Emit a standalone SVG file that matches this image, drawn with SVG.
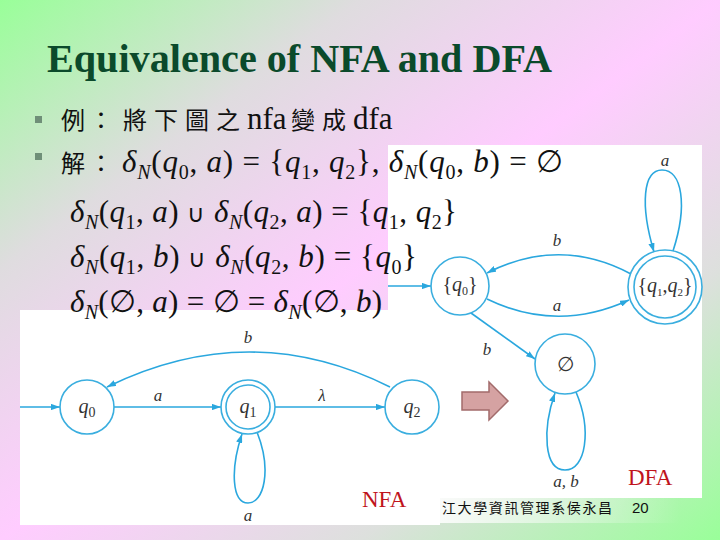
<svg xmlns="http://www.w3.org/2000/svg" width="720" height="540" viewBox="0 0 720 540">
<defs>
<linearGradient id="bg" x1="0" y1="0" x2="1" y2="1">
<stop offset="0" stop-color="#99ff99"/>
<stop offset="0.25" stop-color="#dfdcdf"/>
<stop offset="0.5" stop-color="#ffccff"/>
<stop offset="0.75" stop-color="#dde0dd"/>
<stop offset="1" stop-color="#99ff99"/>
</linearGradient>
<linearGradient id="fg" x1="0" y1="0" x2="1" y2="0">
<stop offset="0" stop-color="#ffffff" stop-opacity="0.85"/>
<stop offset="1" stop-color="#ffffff" stop-opacity="0"/>
</linearGradient>
<marker id="ah" viewBox="0 0 10 7" refX="10" refY="3.5" markerWidth="9" markerHeight="6.3" markerUnits="userSpaceOnUse" orient="auto">
<path d="M0,0 L10,3.5 L0,7 z" fill="#2aa7de"/>
</marker>
<style>
.edge{fill:none;stroke:#2aa7de;stroke-width:1.6}
.node{fill:none;stroke:#3aaedf;stroke-width:1.6}
.lbl{font-family:"Liberation Serif",serif;font-style:italic;font-size:17px;fill:#333;text-anchor:middle}
.nl{font-family:"Liberation Serif",serif;font-size:20px;fill:#333;text-anchor:middle}
.m{font-family:"Liberation Serif",serif;font-size:31px;fill:#111}
.i{font-style:italic}
.sb{font-size:20px}
.cjk{font-family:"Noto Sans CJK TC","Noto Sans CJK SC",sans-serif;font-size:24px;fill:#111}
.red{font-family:"Liberation Serif",serif;font-size:23px;fill:#c0141c}
</style>
</defs>
<rect x="0" y="0" width="720" height="540" fill="url(#bg)"/>
<rect x="388" y="145" width="314" height="353" fill="#ffffff"/>
<rect x="20" y="310" width="420" height="215" fill="#ffffff"/>
<rect x="440" y="498" width="240" height="25" fill="url(#fg)"/>

<text x="47" y="72" font-family="Liberation Serif" font-weight="bold" font-size="40" fill="#0b4a2b" textLength="505" lengthAdjust="spacingAndGlyphs">Equivalence of NFA and DFA</text>

<g id="connectors">
<path class="edge" marker-end="url(#ah)" d="M20,407 L60,407"/>
<path class="edge" marker-end="url(#ah)" d="M114,407 L221,407"/>
<path class="edge" marker-end="url(#ah)" d="M275,407 L385,407"/>
<path class="edge" marker-end="url(#ah)" d="M390,387 Q250,317 107,387"/>
<path class="edge" marker-end="url(#ah)" d="M257,432 C272,470 264,503 248,503 C232,503 230,470 242,434"/>
<path class="edge" marker-end="url(#ah)" d="M388,286 L431,286"/>
<path class="edge" marker-end="url(#ah)" d="M631,274 Q560,236 487,273"/>
<path class="edge" marker-end="url(#ah)" d="M487,299 Q557,333 629,300"/>
<path class="edge" marker-end="url(#ah)" d="M471,313 L535,359"/>
<path class="edge" marker-end="url(#ah)" d="M673,251 C688,205 682,170 662,170 C643,170 640,205 654,252"/>
<path class="edge" marker-end="url(#ah)" d="M576,392 C592,430 586,470 565,470 C544,470 542,430 555,393"/>
<text class="lbl" x="248" y="343">b</text>
<text class="lbl" x="158" y="401">a</text>
<text class="lbl" x="322" y="401" font-style="normal">λ</text>
<text class="lbl" x="248" y="521">a</text>
<text class="lbl" x="665" y="166">a</text>
<text class="lbl" x="557" y="246">b</text>
<text class="lbl" x="557" y="311">a</text>
<text class="lbl" x="487" y="355">b</text>
<text class="lbl" x="566" y="487">a, b</text>
</g>

<g id="nfa-q0">
<circle class="node" cx="87" cy="407" r="27"/>
<text class="nl" x="87" y="413"><tspan class="i">q</tspan><tspan font-size="14" dy="4">0</tspan></text>
</g>
<g id="nfa-q1">
<circle class="node" cx="248" cy="407" r="27"/>
<circle class="node" cx="248" cy="407" r="22"/>
<text class="nl" x="248" y="413"><tspan class="i">q</tspan><tspan font-size="14" dy="4">1</tspan></text>
</g>
<g id="nfa-q2">
<circle class="node" cx="412" cy="407" r="27"/>
<text class="nl" x="412" y="413"><tspan class="i">q</tspan><tspan font-size="14" dy="4">2</tspan></text>
</g>

<g id="dfa-q0">
<circle class="node" cx="460" cy="286" r="29"/>
<text class="nl" x="460" y="291" font-size="17">{<tspan class="i">q</tspan><tspan font-size="12" dy="4">0</tspan><tspan dy="-4">}</tspan></text>
</g>
<g id="dfa-q1q2">
<circle class="node" cx="665" cy="287" r="37"/>
<circle class="node" cx="665" cy="287" r="31"/>
<text class="nl" x="665" y="292" font-size="15">{<tspan class="i">q</tspan><tspan font-size="11" dy="4">1</tspan><tspan dy="-4">,</tspan><tspan class="i">q</tspan><tspan font-size="11" dy="4">2</tspan><tspan dy="-4">}</tspan></text>
</g>
<g id="dfa-empty">
<circle class="node" cx="565" cy="364" r="30"/>
<text class="nl" x="565" y="371" font-family="DejaVu Serif" font-size="19">∅</text>
</g>

<g id="big-arrow">
<path d="M462,392 L489,392 L489,382 L508,401 L489,420 L489,410 L462,410 Z" fill="#d5a2a2" stroke="#a26b6b" stroke-width="1.5"/>
</g>

<text class="red" x="362" y="507">NFA</text>
<text class="red" x="628" y="485">DFA</text>

<g id="bullets">
<rect x="35" y="116" width="7" height="7" fill="#6f8f78"/>
<rect x="35" y="153" width="7" height="7" fill="#6f8f78"/>
</g>

<g id="line1">
<text class="cjk" y="129"><tspan x="61">例</tspan><tspan x="89">：</tspan><tspan x="123">將</tspan><tspan x="154">下</tspan><tspan x="185">圖</tspan><tspan x="216">之</tspan></text>
<text class="m" x="247" y="129">nfa</text>
<text class="cjk" y="129"><tspan x="291">變</tspan><tspan x="322">成</tspan></text>
<text class="m" x="353" y="129">dfa</text>
</g>

<g id="line2">
<text class="cjk" y="172"><tspan x="61">解</tspan><tspan x="89">：</tspan></text>
<text class="m" x="122" y="172" textLength="441"><tspan class="i">δ</tspan><tspan class="i sb" dy="7">N</tspan><tspan dy="-7">(</tspan><tspan class="i">q</tspan><tspan class="sb" dy="7">0</tspan><tspan dy="-7">, </tspan><tspan class="i">a</tspan>) = {<tspan class="i">q</tspan><tspan class="sb" dy="7">1</tspan><tspan dy="-7">, </tspan><tspan class="i">q</tspan><tspan class="sb" dy="7">2</tspan><tspan dy="-7">}, </tspan><tspan class="i">δ</tspan><tspan class="i sb" dy="7">N</tspan><tspan dy="-7">(</tspan><tspan class="i">q</tspan><tspan class="sb" dy="7">0</tspan><tspan dy="-7">, </tspan><tspan class="i">b</tspan>) = ∅</text>
</g>

<g id="line3">
<text class="m" x="70" y="222" textLength="387"><tspan class="i">δ</tspan><tspan class="i sb" dy="7">N</tspan><tspan dy="-7">(</tspan><tspan class="i">q</tspan><tspan class="sb" dy="7">1</tspan><tspan dy="-7">, </tspan><tspan class="i">a</tspan>) <tspan font-size="24">∪</tspan> <tspan class="i">δ</tspan><tspan class="i sb" dy="7">N</tspan><tspan dy="-7">(</tspan><tspan class="i">q</tspan><tspan class="sb" dy="7">2</tspan><tspan dy="-7">, </tspan><tspan class="i">a</tspan>) = {<tspan class="i">q</tspan><tspan class="sb" dy="7">1</tspan><tspan dy="-7">, </tspan><tspan class="i">q</tspan><tspan class="sb" dy="7">2</tspan><tspan dy="-7">}</tspan></text>
</g>

<g id="line4">
<text class="m" x="70" y="267" textLength="347"><tspan class="i">δ</tspan><tspan class="i sb" dy="7">N</tspan><tspan dy="-7">(</tspan><tspan class="i">q</tspan><tspan class="sb" dy="7">1</tspan><tspan dy="-7">, </tspan><tspan class="i">b</tspan>) <tspan font-size="24">∪</tspan> <tspan class="i">δ</tspan><tspan class="i sb" dy="7">N</tspan><tspan dy="-7">(</tspan><tspan class="i">q</tspan><tspan class="sb" dy="7">2</tspan><tspan dy="-7">, </tspan><tspan class="i">b</tspan>) = {<tspan class="i">q</tspan><tspan class="sb" dy="7">0</tspan><tspan dy="-7">}</tspan></text>
</g>

<g id="line5">
<text class="m" x="70" y="312" textLength="312"><tspan class="i">δ</tspan><tspan class="i sb" dy="7">N</tspan><tspan dy="-7">(∅, </tspan><tspan class="i">a</tspan>) = ∅ = <tspan class="i">δ</tspan><tspan class="i sb" dy="7">N</tspan><tspan dy="-7">(∅, </tspan><tspan class="i">b</tspan>)</text>
</g>

<g id="footer">
<text x="442" y="513" font-family="Noto Sans CJK TC,Noto Sans CJK SC,sans-serif" font-size="14" letter-spacing="1.6" fill="#111">江大學資訊管理系侯永昌</text>
<text x="632" y="513" font-family="Liberation Sans,sans-serif" font-size="15" fill="#111">20</text>
</g>
</svg>
